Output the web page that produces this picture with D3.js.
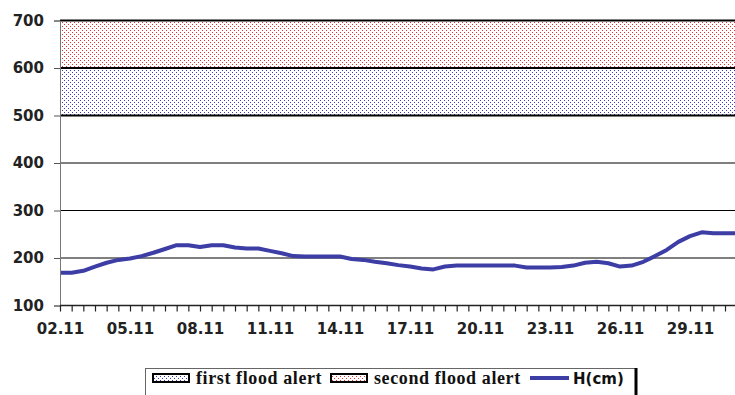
<!DOCTYPE html>
<html>
<head>
<meta charset="utf-8">
<script src="https://cdn.jsdelivr.net/npm/d3@7"></script>
<style>
	html, body { margin: 0; padding: 0; background: #fff; }
	svg { display: block; }
	.tick text { font-family: "DejaVu Sans", Verdana, sans-serif; font-weight: bold; font-size: 15px; fill: #222; }
</style>
</head>
<body>
<div id="chart"></div>
<script>
// water level H(cm), one reading every 12 hours from 02.11
const level = [
	169, 169, 173, 182, 190, 196, 199, 204, 211, 219,
	227, 227, 223, 227, 227, 222, 220, 220, 215, 210,
	204, 203, 203, 203, 203, 198, 196, 192, 189, 185,
	182, 178, 176, 182, 184, 184, 184, 184, 184, 184,
	180, 180, 180, 181, 184, 190, 192, 189, 182, 184,
	192, 204, 217, 234, 246, 254, 252, 252, 252
];
const tickLabels = ["02.11", "05.11", "08.11", "11.11", "14.11", "17.11", "20.11", "23.11", "26.11", "29.11"];
const yTicks = [100, 200, 300, 400, 500, 600, 700];
const alertBands = [
	{name: "first flood alert", from: 500, to: 600, color: "#3b3bb8"},
	{name: "second flood alert", from: 600, to: 700, color: "#f03030"}
];
const lineName = "H(cm)";

const chartW = 735, chartH = 395;
const plotLeft = 60, plotTop = 20.5, plotBottom = 305.5;
const step = 11.667;

const svg = d3.select("#chart").append("svg")
	.attr("width", chartW)
	.attr("height", chartH);

let defs = svg.append("defs");
alertBands.forEach((b, i) => {
	let p = defs.append("pattern")
		.attr("id", "dots" + i)
		.attr("patternUnits", "userSpaceOnUse")
		.attr("width", 4)
		.attr("height", 4);
	p.append("rect").attr("width", 4).attr("height", 4).attr("fill", "#fff");
	p.append("rect").attr("x", 0).attr("y", 0).attr("width", 1).attr("height", 1).attr("fill", b.color);
	p.append("rect").attr("x", 2).attr("y", 2).attr("width", 1).attr("height", 1).attr("fill", b.color);
});
defs.append("clipPath").attr("id", "plotclip")
	.append("rect").attr("x", plotLeft).attr("y", 0).attr("width", chartW - plotLeft).attr("height", chartH);

let x = d3.scaleLinear().domain([0, level.length - 1]).range([plotLeft, plotLeft + (level.length - 1) * step]);
let y = d3.scaleLinear().domain([100, 700]).range([plotBottom, plotTop]);

let plot = svg.append("g").attr("clip-path", "url(#plotclip)");

plot.selectAll("rect.band")
	.data(alertBands)
	.enter().append("rect")
	.attr("class", "band")
	.attr("x", plotLeft)
	.attr("width", chartW - plotLeft)
	.attr("y", d => y(d.to))
	.attr("height", d => y(d.from) - y(d.to))
	.attr("fill", (d, i) => "url(#dots" + i + ")");

plot.selectAll("line.grid")
	.data(yTicks.filter(v => v > 100))
	.enter().append("line")
	.attr("class", "grid")
	.attr("x1", plotLeft)
	.attr("x2", chartW)
	.attr("y1", d => y(d))
	.attr("y2", d => y(d))
	.style("stroke", "#000")
	.style("stroke-width", d => d >= 500 ? 2 : 1);

// y axis
let yAxis = d3.axisLeft(y).tickValues(yTicks).tickSize(6).tickPadding(10).tickFormat(d3.format("d"));
let gy = svg.append("g")
	.attr("transform", "translate(" + plotLeft + ",0)")
	.call(yAxis);
gy.select(".domain").style("stroke", "#777");
gy.selectAll(".tick line").style("stroke", "#555");

// x axis
let xAxis = d3.axisBottom(x)
	.tickValues(d3.range(0, level.length - 1))
	.tickSize(6)
	.tickPadding(12)
	.tickFormat(i => i % 6 === 0 ? tickLabels[i / 6] : "");
let gx = svg.append("g")
	.attr("transform", "translate(0," + plotBottom + ")")
	.call(xAxis);
gx.select(".domain").attr("d", "M" + plotLeft + ",0H" + chartW).style("stroke", "#222").style("stroke-width", 1.5);
gx.selectAll(".tick line").style("stroke", "#222").style("stroke-width", 1.2);

// level line
let line = d3.line()
	.x((d, i) => x(i))
	.y(d => y(d));

plot.append("path")
	.datum(level)
	.attr("d", line)
	.style("fill", "none")
	.style("stroke", "#3d3da6")
	.style("stroke-width", 4)
	.style("stroke-linejoin", "round");

// legend
let legend = svg.append("g");
legend.append("rect")
	.attr("x", 145.5).attr("y", 368.5)
	.attr("width", 490).attr("height", 40)
	.style("fill", "#fff")
	.style("stroke", "#666");
legend.append("line")
	.attr("x1", 636).attr("x2", 636).attr("y1", 368).attr("y2", chartH)
	.style("stroke", "#000").style("stroke-width", 3);

let swatchX = [153, 331];
let labelX = [196, 374];
alertBands.forEach((b, i) => {
	legend.append("rect")
		.attr("x", swatchX[i]).attr("y", 374)
		.attr("width", 36).attr("height", 8)
		.style("fill", "url(#dots" + i + ")")
		.style("stroke", "#000")
		.style("stroke-width", 2);
	legend.append("text")
		.attr("x", labelX[i]).attr("y", 384)
		.style("font-family", "'Liberation Serif', 'Times New Roman', serif")
		.style("font-weight", "bold")
		.style("font-size", "18px")
		.style("letter-spacing", "0.6px")
		.style("fill", "#111")
		.text(b.name);
});
legend.append("line")
	.attr("x1", 530).attr("x2", 569).attr("y1", 378).attr("y2", 378)
	.style("stroke", "#3d3da6").style("stroke-width", 4);
legend.append("text")
	.attr("x", 573).attr("y", 384)
	.style("font-family", "'DejaVu Sans', Verdana, sans-serif")
	.style("font-weight", "bold")
	.style("font-size", "15px")
	.style("fill", "#111")
	.text(lineName);
</script>
</body>
</html>
